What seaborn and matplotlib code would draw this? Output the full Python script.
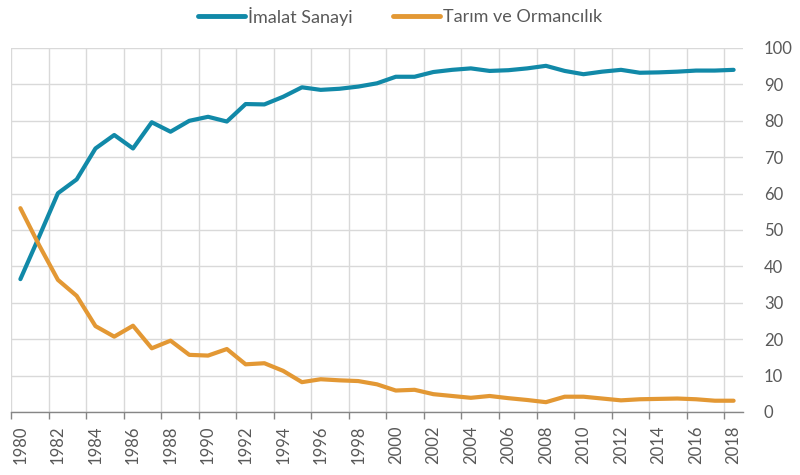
import matplotlib
matplotlib.use("Agg")
import matplotlib.pyplot as plt
import numpy as np
import pandas as pd
import seaborn as sns
from matplotlib.lines import Line2D

years = list(range(1980, 2019))

imalat = [36.5, 48.2, 60.1, 63.9, 72.4, 76.1, 72.4, 79.6, 77.0, 80.0,
          81.1, 79.8, 84.6, 84.5, 86.6, 89.2, 88.5, 88.8, 89.4, 90.3,
          92.1, 92.1, 93.4, 94.0, 94.4, 93.7, 93.9, 94.4, 95.1, 93.7,
          92.8, 93.5, 94.0, 93.2, 93.3, 93.5, 93.8, 93.8, 94.0]

tarim = [56.0, 45.8, 36.3, 31.9, 23.6, 20.7, 23.7, 17.5, 19.6, 15.7,
         15.5, 17.3, 13.1, 13.4, 11.3, 8.2, 9.0, 8.7, 8.5, 7.6,
         5.9, 6.1, 4.9, 4.4, 3.9, 4.4, 3.8, 3.3, 2.7, 4.2,
         4.2, 3.7, 3.2, 3.5, 3.6, 3.7, 3.5, 3.1, 3.1]

series_names = ["İmalat Sanayi", "Tarım ve Ormancılık"]
colors = {"İmalat Sanayi": "#1189A8", "Tarım ve Ormancılık": "#E39834"}

df = pd.concat([
    pd.DataFrame({"year": years, "value": imalat, "series": series_names[0]}),
    pd.DataFrame({"year": years, "value": tarim, "series": series_names[1]}),
])

sns.set_theme(style="white")
plt.rcParams["font.family"] = ["Lato", "DejaVu Sans"]
text_col = "#595959"

fig = plt.figure(figsize=(8, 4.75), dpi=100)
ax = fig.add_axes([11 / 800, 63 / 475, 732 / 800, 364 / 475])

sns.lineplot(data=df, x="year", y="value", hue="series", palette=colors,
             linewidth=3.0, ax=ax, legend=False, solid_capstyle="round")

ax.set_xlim(1979.5, 2018.5)
ax.set_ylim(0, 100)

# x: labels at category centres, tick marks / grid at category boundaries
ax.set_xticks(range(1980, 2019, 2))
ax.set_xticklabels([str(y) for y in range(1980, 2019, 2)], rotation=90,
                   fontsize=12, color=text_col)
ax.set_xticks(np.arange(1979.5, 2018, 2), minor=True)
ax.tick_params(axis="x", which="major", length=0, pad=10)
ax.tick_params(axis="x", which="minor", length=5, width=1, color="#868686",
               direction="out", bottom=True)
ax.grid(axis="x", which="minor", color="#D9D9D9", linewidth=1)
ax.grid(axis="x", which="major", visible=False)

ax.yaxis.tick_right()
ax.set_yticks(range(0, 101, 10))
ax.set_yticklabels([str(v) for v in range(0, 101, 10)], fontsize=12, color=text_col)
ax.tick_params(axis="y", length=0, pad=15)
ax.grid(axis="y", which="major", color="#D9D9D9", linewidth=1)

for s in ["top", "left", "right"]:
    ax.spines[s].set_visible(False)
ax.spines["bottom"].set_color("#868686")
ax.spines["bottom"].set_linewidth(1)
ax.set_xlabel("")
ax.set_ylabel("")

handles = [Line2D([0], [0], color=colors[n], lw=3.5) for n in series_names]
fig.legend(handles, series_names, loc="center", bbox_to_anchor=(0.5, 1 - 16 / 475),
           ncol=2, frameon=False, fontsize=13, labelcolor=text_col,
           handlelength=2.6, handletextpad=0.2, columnspacing=2.2)

fig.savefig("out.png", dpi=100)
